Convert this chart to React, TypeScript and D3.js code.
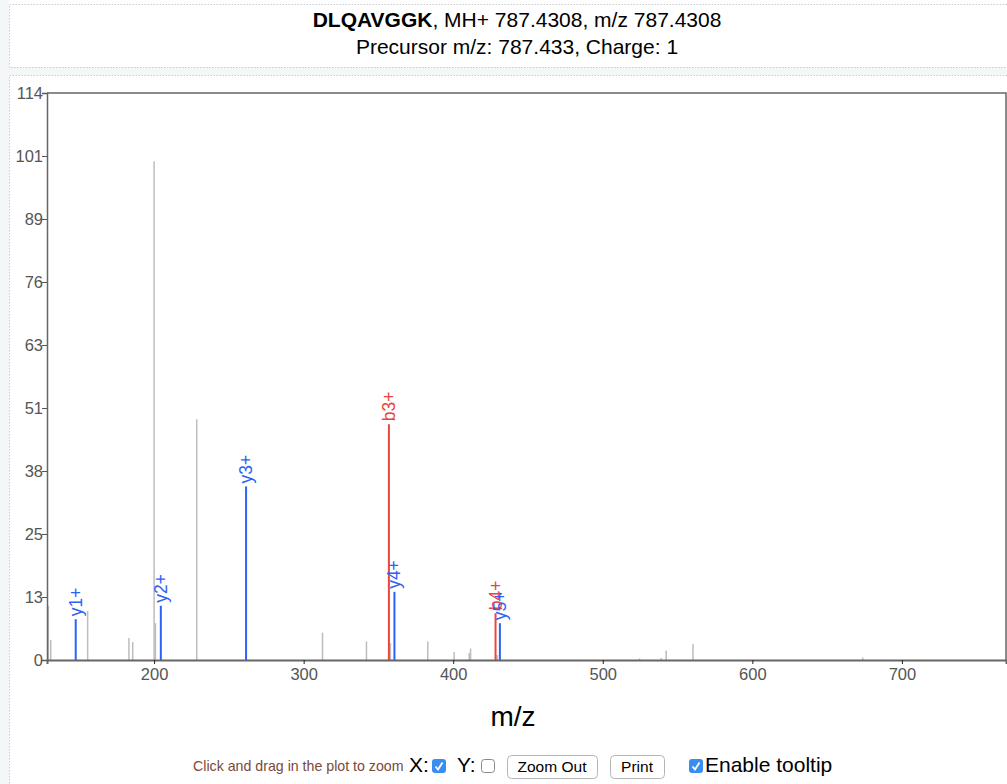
import * as d3 from "d3"
import { useEffect, useRef } from "react"

// unmatched peaks (grey)
const peakMz = [129.3, 130.9, 155.6, 183.2, 185.7, 200.0, 200.9, 228.5, 312.6, 342.0, 358.0, 383.0, 400.6, 410.7, 411.6, 429.4, 524.6, 539.1, 542.4, 560.3, 673.8]
const peakInt = [10.9, 4.0, 9.85, 4.4, 3.6, 100.3, 7.4, 48.4, 5.5, 3.7, 3.4, 3.7, 1.6, 1.4, 2.3, 1.0, 0.3, 0.4, 1.9, 3.2, 0.5]

// matched fragment ions
const ionLabels = ["y1+", "y2+", "y3+", "b3+", "y4+", "b4+", "y5+"]
const ionTypes = ["y", "y", "y", "b", "y", "b", "y"]
const ionMz = [147.6, 204.5, 261.5, 357.0, 360.7, 428.3, 431.2]
const ionInt = [8.2, 10.9, 34.9, 47.4, 13.7, 9.4, 7.4]

const yMax = 114
const xDomain: [number, number] = [128.4, 769.6]
const xTicks = [200, 300, 400, 500, 600, 700]

const ionColor: Record<string, string> = { y: "#2a62f5", b: "#e8453c" }
const FONT = "'Liberation Sans', Arial, Helvetica, sans-serif"

export default function App() {
  const ref = useRef<SVGSVGElement>(null)

  useEffect(() => {
    if (!ref.current) return
    const svg = d3.select(ref.current)
    svg.selectAll("*").remove()

    const W = 1007
    const H = 784
    const margin = { left: 47, right: 1006, top: 93, bottom: 660 }

    // page background and dotted panels
    svg.append("rect").attr("width", W).attr("height", H).attr("fill", "#fff")
    svg.append("rect").attr("x", 0).attr("y", 0).attr("width", 9).attr("height", H).attr("fill", "#f3f7f8")
    svg.append("rect").attr("x", 9).attr("y", 67).attr("width", W - 9).attr("height", 8).attr("fill", "#f3f7f8")
    svg.append("path")
      .attr("d", `M1007,4.5H9.5V67.5H1007 M1007,75.5H9.5V784`)
      .attr("fill", "none")
      .attr("stroke", "#c8cccd")
      .attr("stroke-dasharray", "1.5,1.5")

    // title
    const t1 = svg.append("text")
      .attr("x", 517).attr("y", 27)
      .attr("text-anchor", "middle")
      .attr("font-family", FONT).attr("font-size", 21).attr("fill", "#000")
    t1.append("tspan").attr("font-weight", "bold").text("DLQAVGGK")
    t1.append("tspan").text(", MH+ 787.4308, m/z 787.4308")
    svg.append("text")
      .attr("x", 517).attr("y", 54)
      .attr("text-anchor", "middle")
      .attr("font-family", FONT).attr("font-size", 21).attr("fill", "#000")
      .text("Precursor m/z: 787.433, Charge: 1")

    const x = d3.scaleLinear().domain(xDomain).range([margin.left, margin.right])
    const y = d3.scaleLinear().domain([0, yMax]).range([margin.bottom, margin.top])

    // frame
    svg.append("path")
      .attr("d", `M${margin.left},${margin.top}H${margin.right}V${margin.bottom}`)
      .attr("fill", "none").attr("stroke", "#666").attr("stroke-width", 1.5)

    // grey peaks
    const peaks = peakMz.map((m, i) => ({ mz: m, int: peakInt[i] }))
    svg.append("g").selectAll("line").data(peaks).enter().append("line")
      .attr("x1", (d) => x(d.mz)).attr("x2", (d) => x(d.mz))
      .attr("y1", y(0)).attr("y2", (d) => y(d.int))
      .attr("stroke", "#bdbdbd").attr("stroke-width", 1.5)

    // ion peaks
    const ions = ionMz.map((m, i) => ({ mz: m, int: ionInt[i], label: ionLabels[i], type: ionTypes[i] }))
    svg.append("g").selectAll("line").data(ions).enter().append("line")
      .attr("x1", (d) => x(d.mz)).attr("x2", (d) => x(d.mz))
      .attr("y1", y(0)).attr("y2", (d) => y(d.int))
      .attr("stroke", (d) => ionColor[d.type]).attr("stroke-width", 2)

    svg.append("g").selectAll("text").data(ions).enter().append("text")
      .attr("transform", (d) => `translate(${x(d.mz) + 6},${y(d.int) - 3}) rotate(-90)`)
      .attr("font-family", FONT).attr("font-size", 17.5)
      .attr("fill", (d) => ionColor[d.type])
      .text((d) => d.label)

    // y axis
    const yTicks = d3.range(10).map((i) => (i * yMax) / 9)
    const yAxis = svg.append("g")
      .attr("transform", `translate(${margin.left},0)`)
      .call(d3.axisLeft(y).tickValues(yTicks).tickSize(5).tickFormat((d) => String(Math.round(d as number))))
    yAxis.select(".domain").attr("stroke", "#666").attr("stroke-width", 1.5)
    yAxis.selectAll(".tick line").attr("stroke", "#555")
    yAxis.selectAll(".tick text")
      .attr("font-family", FONT).attr("font-size", 16.5).attr("fill", "#555")
      .attr("x", -4).attr("dy", "0.35em")

    // x axis
    const xAxis = svg.append("g")
      .attr("transform", `translate(0,${margin.bottom})`)
      .call(d3.axisBottom(x).tickValues(xTicks).tickSize(4).tickFormat(d3.format("d")))
    xAxis.select(".domain").attr("stroke", "#666").attr("stroke-width", 2)
    xAxis.selectAll(".tick line").attr("stroke", "#222")
    xAxis.selectAll(".tick text")
      .attr("font-family", FONT).attr("font-size", 16.5).attr("fill", "#555")
      .attr("y", 8)

    svg.append("text")
      .attr("x", 513).attr("y", 726)
      .attr("text-anchor", "middle")
      .attr("font-family", FONT).attr("font-size", 28).attr("fill", "#000")
      .text("m/z")

    // controls row
    const ctrl = svg.append("g").attr("font-family", FONT)
    ctrl.append("text").attr("x", 193).attr("y", 771)
      .attr("font-size", 14.2).attr("fill", "#7a4a3a")
      .text("Click and drag in the plot to zoom")
    ctrl.append("text").attr("x", 409).attr("y", 772).attr("font-size", 21).text("X:")
    ctrl.append("text").attr("x", 457).attr("y", 772).attr("font-size", 21).text("Y:")
    ctrl.append("text").attr("x", 705).attr("y", 772).attr("font-size", 21).text("Enable tooltip")

    const checkbox = (cx: number, checked: boolean) => {
      const g = ctrl.append("g").attr("transform", `translate(${cx},759)`)
      if (checked) {
        g.append("rect").attr("width", 14).attr("height", 14).attr("rx", 3).attr("fill", "#3a8ef0")
        g.append("path").attr("d", "M3.5,7.5 L6,10.5 L10.5,3.5")
          .attr("fill", "none").attr("stroke", "#fff").attr("stroke-width", 1.8)
      } else {
        g.append("rect").attr("x", 0.5).attr("y", 0.5).attr("width", 13).attr("height", 13).attr("rx", 3)
          .attr("fill", "#fff").attr("stroke", "#888")
      }
    }
    checkbox(432, true)
    checkbox(481, false)
    checkbox(689, true)

    const button = (bx: number, bw: number, label: string) => {
      const g = ctrl.append("g").attr("transform", `translate(${bx},755)`)
      g.append("rect").attr("x", 0.5).attr("y", 0.5).attr("width", bw).attr("height", 23).attr("rx", 4)
        .attr("fill", "#fff").attr("stroke", "#b5b5b5")
      g.append("text").attr("x", bw / 2).attr("y", 17).attr("text-anchor", "middle")
        .attr("font-size", 15.5).attr("fill", "#000").text(label)
    }
    button(507, 90, "Zoom Out")
    button(610, 54, "Print")
  }, [])

  return (
    <svg
      ref={ref}
      width={1007}
      height={784}
      style={{ position: "absolute", left: 0, top: 0, display: "block" }}
    />
  )
}
